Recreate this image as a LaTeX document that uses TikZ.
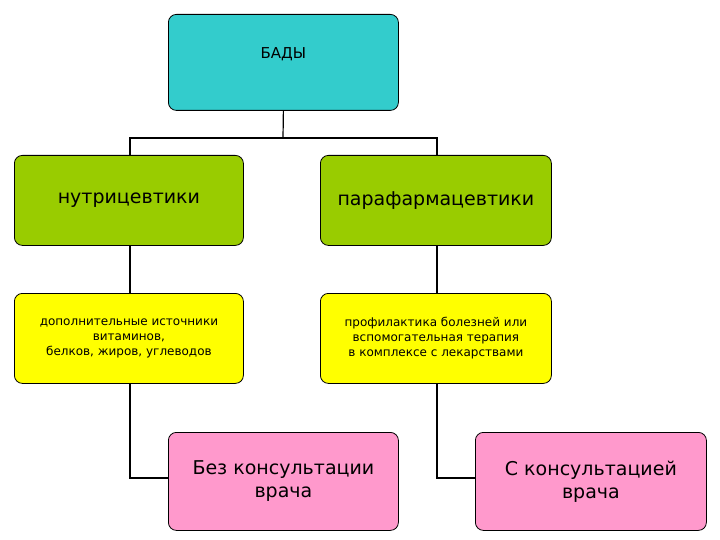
\documentclass[tikz,border=0pt]{standalone}
\usepackage{fontspec}
\setmainfont{DejaVu Sans}
\begin{document}
\begin{tikzpicture}[x=1pt,y=-1pt,
  box/.style={draw=black,line width=0.8pt,rounded corners=8pt,minimum width=229pt,minimum height=90pt,align=center,inner sep=1pt},
  big/.style={font=\fontsize{19}{23}\selectfont},
  small/.style={font=\fontsize{12}{15}\selectfont},
  conn/.style={draw=black,line width=1.2pt}]
\useasboundingbox (0,0) rectangle (720,540);
\definecolor{cy}{HTML}{33CCCC}
\definecolor{gr}{HTML}{99CC00}
\definecolor{ye}{HTML}{FFFF00}
\definecolor{pk}{HTML}{FF99CC}
\node[box,fill=cy,minimum width=230pt,minimum height=96pt,font=\fontsize{15}{18}\selectfont,anchor=north west] (root) at (168,14) {\raisebox{18pt}{БАДЫ}};
\node[box,fill=gr,big,anchor=north west] (n) at (14,155) {нутрицевтики};
\node[box,fill=gr,big,anchor=north west,minimum width=231pt] (p) at (320,155) {парафармацевтики};
\node[box,fill=ye,small,anchor=north west] (ny) at (14,293) {дополнительные источники\\витаминов,\\белков, жиров, углеводов};
\node[box,fill=ye,small,anchor=north west,minimum width=231pt] (py) at (320,293) {профилактика болезней или\\вспомогательная терапия\\в комплексе с лекарствами};
\node[box,fill=pk,big,anchor=north west,minimum width=230pt,minimum height=98pt] (a) at (168,432) {Без консультации\\врача};
\node[box,fill=pk,big,anchor=north west,minimum width=231pt,minimum height=98pt] (b) at (475,432) {С консультацией\\врача};
\coordinate (j) at (283,138);
\draw[conn] (root.south) -- (j);
\draw[conn] (j) -| (n.north -| 130,0);
\draw[conn] (j) -| (p.north -| 437,0);
\draw[conn] (n.south -| 130,0) -- (ny.north -| 130,0);
\draw[conn] (p.south -| 437,0) -- (py.north -| 437,0);
\draw[conn] (ny.south -| 130,0) |- (a.west |- 0,478);
\draw[conn] (py.south -| 437,0) |- (b.west |- 0,478);
\end{tikzpicture}
\end{document}
